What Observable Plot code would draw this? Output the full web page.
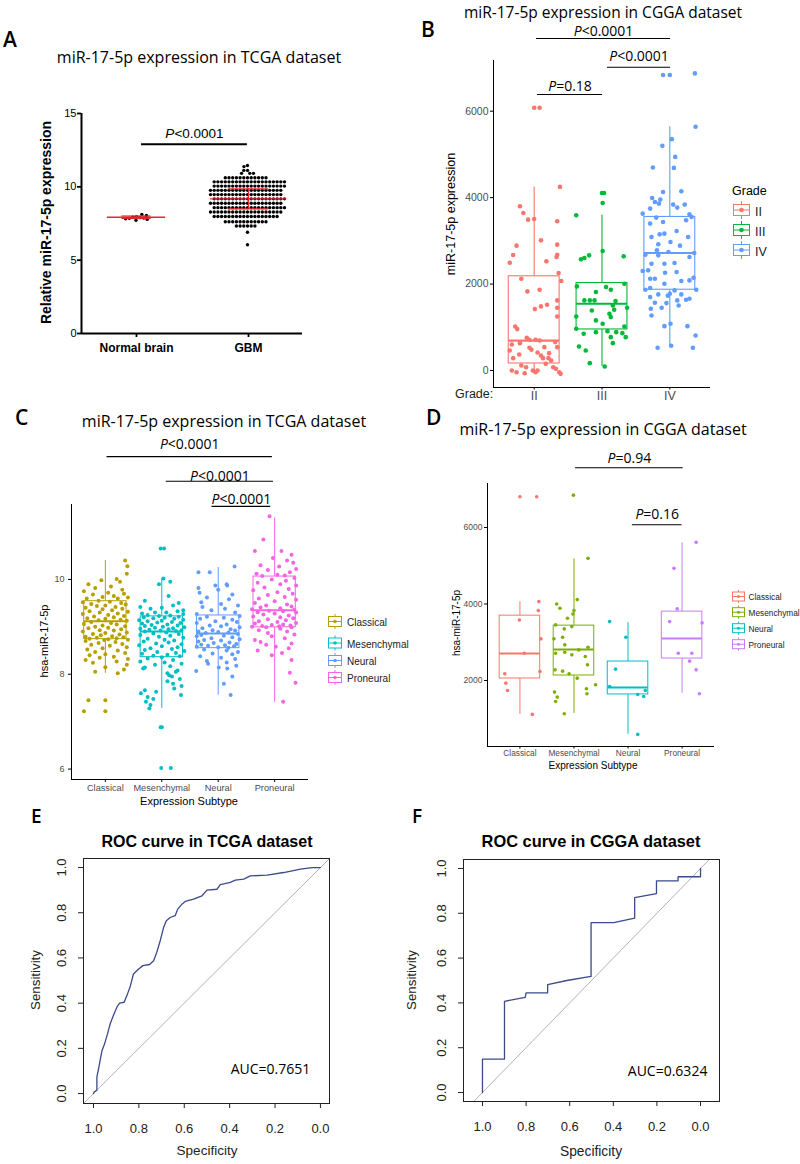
<!DOCTYPE html>
<html><head><meta charset="utf-8">
<script src="https://cdn.jsdelivr.net/npm/d3@7"></script>
<script src="https://cdn.jsdelivr.net/npm/@observablehq/plot@0.6"></script>
<style>
body{margin:0;background:#fff;}
#root{position:relative;width:800px;height:1164px;overflow:hidden;background:#fff;}
</style></head><body><div id="root"></div>
<script>
// ---------------- DATA ----------------
// Panel A (TCGA, GraphPad scatter)
const aCats = ["Normal brain", "GBM"];
const aTicks = [0, 5, 10, 15];
const normalValues = [7.97, 7.93, 7.9, 7.88, 7.85, 7.82, 7.78, 8.05, 8.12, 7.72];
const gbmRows = [[11.45,1],[11.38,1],[11.12,2],[10.92,3],[10.62,12],[10.34,20],[10.05,20],[9.76,20],[9.47,20],[9.18,20],[8.88,20],[8.58,20],[8.28,20],[7.98,18],[7.62,12],[7.33,6],[6.9,1],[6.05,1]];
const aStats = [{g:0, mean:7.93, sd:0.08}, {g:1, mean:9.18, sd:0.68}];
const aSig = [{a:0, b:1, label:"P<0.0001"}];

// Panel B (CGGA by grade)
const bGrades = ["II", "III", "IV"];
const bTicks = [0, 2000, 4000, 6000];
const bII = [[0,6079],[0.08,6079],[0.38,4248],[-0.21,3800],[-0.16,3646],[-0.09,3491],[0,3507],[0.34,3453],[0.1,3012],[-0.26,2889],[0.34,2912],[-0.31,2673],[0.34,2680],[-0.36,2495],[0.18,2526],[0.33,2626],[0.36,2255],[-0.19,2124],[0.40,2070],[-0.1,1831],[0.08,1869],[0.34,1622],[0.01,1421],[0.1,1483],[0.19,1522],[0.34,1452],[0.34,1251],[-0.28,1020],[-0.25,958],[-0.33,602],[-0.21,633],[-0.11,757],[-0.07,711],[0.02,711],[0.08,695],[-0.36,463],[-0.22,371],[-0.04,479],[0.05,417],[0.1,348],[0.22,402],[0.34,541],[-0.31,286],[-0.19,116],[-0.12,77],[-0.02,0],[0.05,0],[0.17,154],[0.25,232],[0.32,39],[0.37,-39],[-0.33,0],[-0.26,-39],[-0.14,-62],[0.02,-39],[0.28,77],[0.39,-77],[0.13,286],[0.21,286],[-0.07,525],[0.15,541],[0.31,657]];
const bIII = [[0,4109],[0.03,4109],[0.01,3877],[-0.38,3592],[0.01,2765],[-0.31,2572],[-0.26,2603],[-0.19,2665],[0.32,2642],[-0.37,1946],[-0.09,1815],[0.06,1931],[0.13,1869],[0.33,2008],[-0.26,1622],[-0.18,1622],[-0.11,1622],[0.16,1506],[0.2,1607],[0.18,1406],[-0.15,1390],[0.11,1313],[0.37,1452],[-0.38,1251],[-0.09,1159],[0.13,1236],[0.01,1081],[0.33,1020],[-0.38,966],[-0.27,850],[-0.09,888],[0.08,911],[0.13,772],[0.21,888],[0.3,865],[0.35,772],[0.16,633],[-0.34,556],[-0.24,463],[-0.18,170],[0.04,93]];
const bIV = [[-0.1,6836],[0,6836],[0.37,6874],[0.38,5639],[0.03,5353],[-0.11,5198],[0.08,4943],[-0.25,4696],[0.06,4688],[-0.1,4132],[0.17,4148],[-0.26,3993],[-0.22,3900],[-0.16,3862],[-0.29,3746],[0.05,3839],[0.11,3769],[0.22,3839],[-0.4,3630],[0.29,3615],[0.32,3553],[0.24,3476],[-0.1,3437],[-0.29,3399],[0.1,3229],[-0.15,3151],[-0.08,3167],[-0.27,3090],[0.27,3090],[0.01,2974],[-0.17,2920],[0.15,2889],[-0.19,2781],[-0.17,2665],[-0.02,2742],[0.36,2719],[-0.36,2680],[-0.27,2472],[-0.32,2317],[-0.08,2472],[0.07,2487],[0.29,2626],[-0.4,2302],[-0.07,2263],[0.1,2279],[0.35,2147],[-0.29,2124],[-0.22,2124],[0.17,2070],[0.29,2085],[-0.08,2008],[-0.36,1869],[-0.29,1908],[0.07,1854],[0.39,1869],[-0.17,1761],[-0.03,1730],[-0.29,1699],[0.17,1761],[0.24,1637],[0.11,1622],[-0.22,1568],[-0.05,1560],[0.29,1661],[-0.28,1429],[-0.12,1452],[0.13,1506],[-0.27,1274],[-0.08,1027],[0.01,1081],[0.26,1027],[0.38,811],[-0.18,525],[0.02,572],[0.34,525],[-0.2,3538],[-0.14,3955],[0,1777]];
const bBox = [
  {g:1, lo:-77, q1:162, med:690, q3:2180, hi:4248},
  {g:2, lo:93, q1:950, med:1545, q3:2024, hi:3592},
  {g:3, lo:572, q1:1869, med:2719, q3:3553, hi:5639}];
const bSig = [{a:1, b:3, label:"P<0.0001"}, {a:2, b:3, label:"P<0.0001"}, {a:1, b:2, label:"P=0.18"}];

// Panel C (TCGA by subtype)
const subtypes = ["Classical", "Mesenchymal", "Neural", "Proneural"];
const cTicks = [6, 8, 10];
const cClassical = [[0.35,10.4],[0.39,10.28],[0.38,10.12],[0.2,10.01],[-0.07,9.98],[0.26,9.95],[-0.3,9.9],[0.1,9.85],[-0.18,9.82],[0.3,9.78],[-0.38,9.75],[0.05,9.72],[0.33,9.7],[-0.22,9.68],[0.15,9.65],[-0.05,9.63],[0.4,9.62],[-0.33,9.6],[0.22,9.6],[-0.12,9.55],[0.08,9.53],[-0.4,9.52],[0.28,9.5],[-0.25,9.48],[0.36,9.47],[0,9.45],[-0.15,9.44],[0.18,9.42],[-0.35,9.4],[0.3,9.38],[-0.05,9.37],[0.12,9.35],[-0.28,9.33],[0.4,9.32],[-0.1,9.3],[0.22,9.28],[-0.4,9.27],[0.05,9.25],[0.33,9.23],[-0.2,9.22],[0.15,9.2],[-0.32,9.18],[0,9.17],[0.27,9.15],[-0.12,9.14],[0.38,9.13],[-0.25,9.1],[0.1,9.08],[-0.38,9.06],[0.2,9.05],[-0.05,9.03],[0.35,9.01],[-0.18,9],[0.05,8.98],[-0.3,8.97],[0.28,8.95],[-0.1,8.93],[0.15,8.92],[-0.4,8.9],[0.38,8.88],[0,8.87],[-0.22,8.85],[0.25,8.84],[-0.08,8.82],[0.12,8.8],[-0.35,8.79],[0.32,8.78],[-0.15,8.77],[0.2,8.76],[-0.28,8.75],[0.05,8.74],[0.4,8.73],[-0.02,8.72],[-0.35,8.7],[0.18,8.68],[-0.12,8.66],[0.3,8.64],[-0.25,8.62],[0.08,8.6],[0.38,8.57],[-0.05,8.55],[-0.32,8.52],[0.22,8.5],[-0.18,8.47],[0.35,8.45],[0,8.42],[-0.28,8.4],[0.15,8.37],[-0.1,8.35],[0.4,8.32],[-0.35,8.3],[0.2,8.27],[-0.22,8.24],[0.38,8.2],[0,8.15],[0.33,8.1],[-0.18,8.05],[0.22,8.02],[-0.3,7.45],[0,7.45],[-0.38,7.22],[0,7.22]];
const cMesenchymal = [[-0.02,10.65],[0.04,10.65],[0.03,10.02],[0.15,9.95],[-0.05,9.9],[0.12,9.65],[-0.3,9.55],[0.3,9.5],[0.2,9.45],[-0.38,9.42],[0,9.4],[-0.2,9.38],[0.38,9.35],[0.28,9.33],[-0.12,9.3],[0.08,9.3],[-0.35,9.28],[0.38,9.27],[-0.25,9.25],[0.15,9.24],[-0.05,9.23],[0.3,9.21],[-0.32,9.2],[0.05,9.19],[-0.15,9.18],[0.22,9.17],[0.38,9.15],[-0.4,9.14],[0,9.13],[-0.25,9.12],[0.18,9.1],[-0.08,9.09],[0.33,9.08],[-0.35,9.07],[0.1,9.05],[-0.18,9.04],[0.28,9.03],[-0.3,9.02],[0.02,9],[0.4,8.99],[-0.12,8.98],[0.2,8.97],[-0.38,8.96],[0.12,8.95],[-0.22,8.94],[0.35,8.93],[-0.02,8.92],[0.25,8.91],[-0.3,8.9],[0.08,8.88],[-0.15,8.86],[0.3,8.85],[-0.38,8.83],[0.15,8.81],[-0.05,8.79],[0.38,8.77],[-0.25,8.75],[0.05,8.73],[0.22,8.71],[-0.32,8.69],[0.12,8.67],[-0.1,8.65],[0.35,8.63],[-0.4,8.61],[0,8.59],[0.28,8.57],[-0.2,8.55],[0.18,8.53],[-0.3,8.51],[0.4,8.49],[-0.08,8.47],[0.25,8.45],[-0.35,8.43],[0.1,8.41],[-0.15,8.39],[0.32,8.38],[0,8.36],[-0.25,8.33],[0.2,8.3],[-0.38,8.27],[0.05,8.25],[0.35,8.22],[-0.12,8.2],[0.15,8.17],[-0.3,8.14],[-0.33,8.12],[0.28,8.08],[0.25,8.05],[0.1,8.02],[0.13,7.98],[0.18,7.95],[0.32,7.9],[0.1,7.85],[0.2,7.8],[0.35,7.75],[0.22,7.7],[-0.3,7.66],[-0.1,7.63],[-0.37,7.6],[0.34,7.56],[-0.25,7.52],[-0.15,7.48],[-0.28,7.42],[-0.2,7.35],[-0.22,7.28],[0,6.88],[-0.02,6.88],[-0.01,6.02],[0.16,6.02]];
const cNeural = [[0.29,10.27],[-0.35,10.15],[-0.15,10.15],[0.15,9.9],[-0.05,9.87],[0.16,9.87],[-0.35,9.82],[0,9.78],[-0.33,9.72],[0.25,9.68],[-0.2,9.62],[0.19,9.58],[-0.3,9.52],[0.05,9.48],[0.35,9.45],[-0.28,9.42],[0.12,9.38],[-0.12,9.35],[0.3,9.3],[-0.38,9.27],[0.38,9.23],[-0.2,9.21],[0.1,9.19],[-0.32,9.17],[0.25,9.15],[-0.05,9.12],[0.33,9.1],[-0.38,9.08],[0.15,9.05],[-0.15,9.03],[0.05,9.01],[0.38,8.99],[-0.28,8.97],[0.22,8.95],[-0.1,8.93],[0.3,8.92],[-0.35,8.9],[0,8.89],[0.18,8.88],[-0.22,8.87],[0.35,8.85],[-0.3,8.83],[0.1,8.81],[-0.38,8.8],[0.25,8.78],[-0.12,8.76],[0.38,8.74],[-0.25,8.72],[0.05,8.71],[-0.35,8.69],[0.2,8.67],[-0.08,8.66],[0.32,8.64],[-0.3,8.62],[0.12,8.61],[-0.18,8.6],[0.28,8.59],[-0.38,8.58],[0,8.57],[0.18,8.56],[-0.25,8.52],[0.15,8.5],[0.35,8.47],[-0.1,8.44],[0.25,8.42],[-0.32,8.38],[0.05,8.35],[0.3,8.32],[-0.2,8.28],[0.15,8.25],[-0.18,8.22],[0.32,8.18],[0.01,8.14],[0.16,8.12],[-0.39,8.07],[0.25,7.95],[0.1,7.8],[0.22,7.56]];
const cProneural = [[-0.09,11.33],[-0.2,10.84],[-0.35,10.6],[0.12,10.6],[0.3,10.52],[-0.03,10.45],[0.22,10.4],[0.33,10.35],[-0.25,10.3],[0.08,10.27],[0.38,10.22],[-0.12,10.2],[0.27,10.15],[-0.32,10.12],[0.05,10.1],[0.18,10.08],[-0.22,10.07],[0.35,10.03],[-0.05,10],[0.2,9.97],[-0.3,9.93],[0.1,9.9],[0.38,9.87],[-0.18,9.83],[0.25,9.8],[-0.38,9.77],[0.05,9.73],[0.32,9.7],[-0.12,9.67],[0.18,9.63],[-0.28,9.6],[0.38,9.57],[0,9.54],[-0.35,9.5],[0.22,9.47],[-0.15,9.45],[0.3,9.43],[-0.25,9.41],[0.1,9.39],[-0.4,9.37],[0.35,9.36],[-0.1,9.34],[0.15,9.33],[-0.3,9.31],[0.38,9.3],[0,9.28],[-0.2,9.26],[0.25,9.24],[-0.38,9.22],[0.1,9.2],[0.33,9.18],[-0.12,9.16],[0.2,9.14],[-0.28,9.12],[0.05,9.1],[0.38,9.08],[-0.35,9.07],[0.15,9.05],[-0.05,9.04],[0.28,9.03],[-0.22,9.02],[0.08,9.01],[-0.4,9],[0.3,8.99],[-0.15,8.99],[0.1,8.96],[-0.28,8.93],[0.22,8.9],[-0.12,8.87],[0.35,8.84],[-0.05,8.8],[0.18,8.76],[-0.35,8.72],[-0.25,8.68],[0.3,8.65],[-0.15,8.62],[0.02,8.58],[0.25,8.55],[-0.3,8.5],[0.13,8.45],[-0.05,8.4],[0.3,8.3],[0.27,8.03],[0.37,7.82],[0.15,7.42]];
const cBox = [
  {g:1, lo:8.02, q1:8.74, med:9.12, q3:9.54, hi:10.4},
  {g:2, lo:7.28, q1:8.36, med:8.9, q3:9.22, hi:10.02},
  {g:3, lo:7.56, q1:8.55, med:8.86, q3:9.24, hi:10.25},
  {g:4, lo:7.41, q1:8.99, med:9.35, q3:10.06, hi:11.3}];
const cSig = [{a:1, b:4, label:"P<0.0001"}, {a:2, b:4, label:"P<0.0001"}, {a:3, b:4, label:"P<0.0001"}];

// Panel D (CGGA by subtype)
const dTicks = [2000, 4000, 6000];
const dClassical = [[0,6802],[0.31,6802],[0.35,4062],[0.34,3827],[-0.01,3583],[0.39,3088],[0.08,2713],[0.37,2235],[-0.28,2174],[-0.26,1930],[-0.23,1739],[0.23,1113]];
const dMesenchymal = [[-0.01,6846],[0.26,5193],[0.06,4114],[-0.32,4001],[-0.26,3888],[0,3827],[-0.02,3740],[-0.12,3627],[-0.04,3409],[-0.18,3349],[-0.34,3453],[-0.21,3131],[-0.37,3088],[-0.17,2931],[-0.34,2713],[-0.17,2739],[-0.04,2670],[0.09,2800],[0.21,2626],[0.26,2870],[0.25,2409],[-0.35,2278],[-0.21,2244],[-0.09,2174],[0.06,2061],[0.4,1887],[0.23,1783],[0.24,1652],[-0.36,1696],[-0.31,1565],[-0.34,1452],[-0.18,1130]];
const dNeural = [[-0.34,3540],[-0.04,3131],[-0.23,2296],[-0.34,1843],[0.18,1635],[0.29,1583],[0.32,1739],[0.18,591]];
const dProneural = [[0.26,5611],[-0.15,4932],[-0.09,3871],[-0.23,3540],[0.37,3505],[-0.07,2713],[0.18,2713],[0.14,2505],[0.26,2278],[0.32,1652]];
const dBox = [
  {g:1, lo:1113, q1:2052, med:2704, q3:3695, hi:4060},
  {g:2, lo:1139, q1:2130, med:2808, q3:3434, hi:5180},
  {g:3, lo:592, q1:1635, med:1817, q3:2495, hi:3512},
  {g:4, lo:1661, q1:2574, med:3095, q3:3800, hi:5600}];
const dSig = [{a:2, b:4, label:"P=0.94"}, {a:3, b:4, label:"P=0.16"}];

// Panels E, F (ROC curves: [specificity, sensitivity])
const rocTicks = [0, 0.2, 0.4, 0.6, 0.8, 1];
const rocE = [[1,0],[0.997,0.007],[0.985,0.015],[0.985,0.074],[0.976,0.118],[0.963,0.188],[0.951,0.22],[0.938,0.265],[0.926,0.31],[0.912,0.346],[0.897,0.382],[0.885,0.4],[0.865,0.404],[0.85,0.441],[0.838,0.474],[0.824,0.529],[0.801,0.551],[0.782,0.566],[0.753,0.571],[0.735,0.588],[0.721,0.625],[0.706,0.676],[0.691,0.735],[0.679,0.765],[0.662,0.779],[0.64,0.787],[0.629,0.816],[0.61,0.838],[0.596,0.85],[0.559,0.86],[0.522,0.875],[0.5,0.9],[0.456,0.904],[0.441,0.924],[0.397,0.934],[0.375,0.944],[0.338,0.949],[0.309,0.963],[0.235,0.966],[0.162,0.978],[0.088,0.993],[0.037,1],[0,1]];
const rocF = [[1,0],[1,0.149],[0.899,0.149],[0.899,0.407],[0.804,0.425],[0.8,0.445],[0.701,0.445],[0.701,0.482],[0.613,0.5],[0.502,0.518],[0.502,0.758],[0.398,0.758],[0.302,0.778],[0.302,0.87],[0.202,0.888],[0.202,0.945],[0.103,0.945],[0.103,0.963],[0,0.963],[0,1]];
const aucE = "AUC=0.7651";
const aucF = "AUC=0.6324";

// ---------------- RENDER ----------------
const root = document.getElementById("root");
const SANS = "'Liberation Sans', Arial, sans-serif";
const MYR = "'Open Sans', sans-serif";
const baseStyle = {background: "transparent", fontFamily: SANS, overflow: "visible", color: "black"};
const ggHue4 = ["#F8766D", "#7CAE00", "#00BFC4", "#C77CFF"];
const cHue = ["#B79F00", "#00BFC4", "#619CFF", "#F564E3"];
const bHue = ["#F8766D", "#00BA38", "#619CFF"];

function place(el, left, top) {
  el.style.position = "absolute";
  el.style.left = left + "px";
  el.style.top = top + "px";
  el.style.maxWidth = "none";
  el.style.overflow = "visible";
  root.appendChild(el);
  italicP(el);
  return el;
}
function italicP(svg) {
  const ns = "http://www.w3.org/2000/svg";
  svg.querySelectorAll("text, tspan").forEach(t => {
    if (t.childNodes.length === 1 && t.firstChild.nodeType === 3 && /^P[<=]/.test(t.textContent)) {
      const s = t.textContent;
      t.textContent = "";
      const a = document.createElementNS(ns, "tspan");
      a.setAttribute("font-style", "italic");
      a.textContent = "P";
      t.appendChild(a);
      t.appendChild(document.createTextNode(s.slice(1)));
    }
  });
}
function groupPoints(groups) {
  return groups.flatMap((arr, i) => arr.map(([o, v]) => ({g: i + 1, x: i + 1 + o, v})));
}
function boxMarks(box, hw, sw) {
  return [
    Plot.ruleX(box, {x: "g", y1: "q3", y2: "hi", stroke: "g", strokeWidth: sw}),
    Plot.ruleX(box, {x: "g", y1: "lo", y2: "q1", stroke: "g", strokeWidth: sw}),
    Plot.rect(box, {x1: d => d.g - hw, x2: d => d.g + hw, y1: "q1", y2: "q3", stroke: "g", fill: "white", strokeWidth: sw}),
    Plot.ruleY(box, {y: "med", x1: d => d.g - hw, x2: d => d.g + hw, stroke: "g", strokeWidth: sw * 2})
  ];
}
// significance brackets: layout [x1, x2, lineY, textY] kept apart from the comparisons
function sigMarks(sig, layout, font, size, sw) {
  const rows = sig.map((s, i) => ({...s, x1: layout[i][0], x2: layout[i][1], ly: layout[i][2], ty: layout[i][3]}));
  return [
    Plot.ruleY(rows, {y: "ly", x1: "x1", x2: "x2", stroke: "black", strokeWidth: sw}),
    Plot.text(rows, {x: d => (d.x1 + d.x2) / 2, y: "ty", text: "label", fontFamily: font, fontSize: size, fill: "black"})
  ];
}

// ---- Panel A: axes / error bars / bracket layer
const aX = [-0.491, 1.482], aY = [0, 15];
const meanHalf = [0.26, 0.34], sdHalf = [0.13, 0.18];
const aRed = "#e3262b";
const plotA1 = Plot.plot({
  width: 400, height: 270, marginLeft: 81, marginRight: 98, marginTop: 13, marginBottom: 37,
  style: baseStyle,
  x: {domain: aX, axis: null}, y: {domain: aY, axis: null},
  marks: [
    Plot.ruleY(aStats, {y: "mean", x1: d => d.g - meanHalf[d.g], x2: d => d.g + meanHalf[d.g], stroke: aRed, strokeWidth: 1.4}),
    Plot.ruleY(aStats, {y: d => d.mean + d.sd, x1: d => d.g - sdHalf[d.g], x2: d => d.g + sdHalf[d.g], stroke: aRed, strokeWidth: 1.2}),
    Plot.ruleY(aStats, {y: d => d.mean - d.sd, x1: d => d.g - sdHalf[d.g], x2: d => d.g + sdHalf[d.g], stroke: aRed, strokeWidth: 1.2}),
    Plot.ruleX(aStats, {x: "g", y1: d => d.mean - d.sd, y2: d => d.mean + d.sd, stroke: aRed, strokeWidth: 1.2}),
    Plot.ruleX([aX[0]], {stroke: "black", strokeWidth: 2}),
    Plot.ruleY([aY[0]], {stroke: "black", strokeWidth: 2}),
    Plot.axisY({ticks: aTicks, tickSize: 4, tickPadding: 1, fontSize: 11, strokeWidth: 1.8, label: null}),
    Plot.axisX({ticks: [0, 1], tickFormat: i => aCats[i], tickSize: 4, tickPadding: 6, fontSize: 12, fontWeight: "bold", strokeWidth: 1.8, label: null}),
    ...sigMarks(aSig, [[0.045, 0.99, 12.9, 13.6]], SANS, 13.5, 2)
  ]
});
// ---- Panel A: beeswarm dots (faceted dodge)
const aPoints = [
  ...normalValues.map(v => ({g: aCats[0], v})),
  ...gbmRows.flatMap(([v, n]) => d3.range(n).map(() => ({g: aCats[1], v})))
];
const plotA2 = Plot.plot({
  width: 400, height: 270, marginLeft: 81, marginRight: 98, marginTop: 13, marginBottom: 37,
  style: baseStyle,
  fx: {domain: aCats, paddingInner: 0.1, paddingOuter: 0.045, axis: null, label: null},
  y: {domain: aY, axis: null},
  marks: [
    Plot.dot(aPoints, Plot.dodgeX({anchor: "middle", padding: 0.3}, {fx: "g", y: "v", r: 1.7, fill: "black"}))
  ]
});
place(plotA2, 0, 100);
place(plotA1, 0, 100);

// ---- Panel B
const bX = [0.4, 3.6], bY = [-393, 7173];
const plotB = Plot.plot({
  width: 400, height: 405, marginLeft: 93, marginRight: 90, marginTop: 60, marginBottom: 18,
  style: baseStyle,
  x: {domain: bX, axis: null}, y: {domain: bY, axis: null},
  color: {type: "ordinal", domain: [1, 2, 3], range: bHue},
  marks: [
    Plot.ruleX([bX[0]], {stroke: "black", strokeWidth: 1}),
    Plot.ruleY([bY[0]], {stroke: "black", strokeWidth: 1}),
    Plot.axisY({ticks: bTicks, tickFormat: "d", tickSize: 3, tickPadding: 2, fontSize: 10.5, fill: "#4d4d4d", label: null}),
    Plot.axisX({ticks: [1, 2, 3], tickFormat: d => bGrades[d - 1], tickSize: 2.5, tickPadding: 1, fontSize: 12.5, fill: "#4d4d4d", label: null}),
    ...boxMarks(bBox, 0.375, 1.1),
    Plot.dot(groupPoints([bII, bIII, bIV]), {x: "x", y: "v", fill: "g", r: 2.3}),
    ...sigMarks(bSig, [[1.034, 3.011, 7683, 7850], [2.081, 3.011, 7018, 7254], [1.049, 2.008, 6387, 6572]], MYR, 14, 1.1)
  ]
});
place(plotB, 400, 0);

// ---- Panel C
const cX = [0.4, 4.6], cY = [5.78, 11.58];
const plotC = Plot.plot({
  width: 400, height: 380, marginLeft: 71, marginRight: 92, marginTop: 74, marginBottom: 31,
  style: baseStyle,
  x: {domain: cX, axis: null}, y: {domain: cY, axis: null},
  color: {type: "ordinal", domain: [1, 2, 3, 4], range: cHue},
  marks: [
    Plot.ruleX([cX[0]], {stroke: "black", strokeWidth: 1}),
    Plot.ruleY([cY[0]], {stroke: "black", strokeWidth: 1}),
    Plot.axisY({ticks: cTicks, tickFormat: "d", tickSize: 3, tickPadding: 4, fontSize: 9, fill: "#4d4d4d", label: null}),
    Plot.axisX({ticks: [1, 2, 3, 4], tickFormat: d => subtypes[d - 1], tickSize: 3, tickPadding: 1.5, fontSize: 9.2, fill: "#4d4d4d", label: null}),
    ...boxMarks(cBox, 0.375, 1),
    Plot.dot(groupPoints([cClassical, cMesenchymal, cNeural, cProneural]), {x: "x", y: "v", fill: "g", r: 2}),
    ...sigMarks(cSig, [[1.03, 3.96, 12.59, 12.84], [2.08, 3.98, 12.07, 12.18], [2.89, 3.93, 11.54, 11.69]], MYR, 14, 1.1)
  ]
});
place(plotC, 0, 430);

// ---- Panel D
const dX = [0.4, 4.6], dY = [274, 7150];
const plotD = Plot.plot({
  width: 400, height: 335, marginLeft: 87, marginRight: 86, marginTop: 43, marginBottom: 29,
  style: baseStyle,
  x: {domain: dX, axis: null}, y: {domain: dY, axis: null},
  color: {type: "ordinal", domain: [1, 2, 3, 4], range: ggHue4},
  marks: [
    Plot.ruleX([dX[0]], {stroke: "black", strokeWidth: 1}),
    Plot.ruleY([dY[0]], {stroke: "black", strokeWidth: 1}),
    Plot.axisY({ticks: dTicks, tickFormat: "d", tickSize: 3, tickPadding: 2, fontSize: 8.5, fill: "#4d4d4d", label: null}),
    Plot.axisX({ticks: [1, 2, 3, 4], tickFormat: d => subtypes[d - 1], tickSize: 2.5, tickPadding: 1.5, fontSize: 8.3, fill: "#4d4d4d", label: null}),
    ...boxMarks(dBox, 0.375, 1),
    Plot.dot(groupPoints([dClassical, dMesenchymal, dNeural, dProneural]), {x: "x", y: "v", fill: "g", r: 1.8}),
    ...sigMarks(dSig, [[2.03, 4.02, 7561, 7810], [3.08, 4.0, 6073, 6352]], MYR, 14, 1.1)
  ]
});
place(plotD, 400, 440);

// ---- Panels E, F
function rocPlot(roc, auc, xDom, yDom, m, aucPos) {
  return Plot.plot({
    width: 400, height: 314, marginLeft: m[0], marginRight: m[1], marginTop: m[2], marginBottom: m[3],
    style: baseStyle,
    x: {domain: xDom, axis: null}, y: {domain: yDom, axis: null},
    marks: [
      Plot.link([{x1: 1.2, y1: -0.2, x2: -0.2, y2: 1.2}], {x1: "x1", y1: "y1", x2: "x2", y2: "y2", stroke: "#b3b3b3", strokeWidth: 1, clip: true}),
      Plot.line(roc, {x: d => d[0], y: d => d[1], stroke: "#3b4b8c", strokeWidth: 1.3}),
      Plot.frame({stroke: "#222", strokeWidth: 1}),
      Plot.axisX({ticks: rocTicks, tickFormat: ".1f", tickSize: 5, tickPadding: 15, fontSize: 13, fill: "#222", stroke: "#222", label: null}),
      Plot.axisY({ticks: rocTicks, tickFormat: ".1f", tickSize: 5, tickPadding: 13, fontSize: 13, fill: "#222", stroke: "#222", tickRotate: -90, textAnchor: "middle", lineAnchor: "bottom", label: null}),
      Plot.text([auc], {x: aucPos[0], y: aucPos[1], text: d => d, fontFamily: MYR, fontSize: 14, fill: "black"})
    ]
  });
}
place(rocPlot(rocE, aucE, [1.044, -0.04], [-0.044, 1.04], [83, 71, 8, 61], [0.22, 0.106]), 0, 850);
place(rocPlot(rocF, aucF, [1.087, -0.087], [-0.04, 1.04], [63, 81, 9, 63], [0.151, 0.094]), 400, 850);

// ---------------- OVERLAY TEXT (titles, panel letters, axis titles, legends) ----------------
function t(x, y, s, o = {}) {
  const rot = o.rotate ? ` transform="translate(${x},${y}) rotate(${o.rotate})"` : "";
  const pos = o.rotate ? `x="0" y="0"` : `x="${x}" y="${y}"`;
  return `<text ${pos}${rot} font-family="${o.font || SANS}" font-size="${o.size || 12}" fill="${o.fill || "black"}" text-anchor="${o.anchor || "start"}" font-weight="${o.weight || "normal"}">${s}</text>`;
}
function key(x, yc, w, h, whisk, r, color) {
  const cx = x + w / 2;
  return `<g stroke="${color}" stroke-width="1" fill="none">
    <line x1="${cx}" x2="${cx}" y1="${yc - h / 2 - whisk}" y2="${yc - h / 2}"/>
    <line x1="${cx}" x2="${cx}" y1="${yc + h / 2}" y2="${yc + h / 2 + whisk}"/>
    <rect x="${x}" y="${yc - h / 2}" width="${w}" height="${h}" fill="white"/>
    <line x1="${x}" x2="${x + w}" y1="${yc}" y2="${yc}"/>
    <circle cx="${cx}" cy="${yc}" r="${r}" fill="${color}" stroke="none"/></g>`;
}
let ov = "";
// panel letters
ov += t(3, 47, "A", {font: MYR, size: 21, weight: 600});
ov += t(421, 37, "B", {font: MYR, size: 21, weight: 600});
ov += t(15, 425, "C", {font: MYR, size: 21, weight: 600});
ov += t(426, 425, "D", {font: MYR, size: 21, weight: 600});
ov += t(31, 823, "E", {font: MYR, size: 19, weight: 600});
ov += t(412, 823, "F", {font: MYR, size: 19, weight: 600});
// titles
ov += t(199, 63, "miR-17-5p expression in TCGA dataset", {font: MYR, size: 16, anchor: "middle"});
ov += t(603, 17.5, "miR-17-5p expression in CGGA dataset", {font: MYR, size: 15.5, anchor: "middle"});
ov += t(224, 427, "miR-17-5p expression in TCGA dataset", {font: MYR, size: 16, anchor: "middle"});
ov += t(603, 435, "miR-17-5p expression in CGGA dataset", {font: MYR, size: 16, anchor: "middle"});
ov += t(207, 847, "ROC curve in TCGA dataset", {size: 16, anchor: "middle", weight: "bold"});
ov += t(591, 847, "ROC curve in CGGA dataset", {size: 16.4, anchor: "middle", weight: "bold"});
// axis titles
ov += t(51, 222.5, "Relative miR-17-5p expression", {size: 14, weight: "bold", anchor: "middle", rotate: -90});
ov += t(454.5, 214, "miR-17-5p expression", {size: 12.5, anchor: "middle", rotate: -90});
ov += t(455, 398, "Grade:", {size: 12.5, fill: "#222"});
ov += t(48, 641, "hsa-miR-17-5p", {size: 11, anchor: "middle", rotate: -90});
ov += t(189, 805, "Expression Subtype", {size: 11, anchor: "middle"});
ov += t(459.5, 623, "hsa-miR-17-5p", {size: 10, anchor: "middle", rotate: -90});
ov += t(593, 769, "Expression Subtype", {size: 10, anchor: "middle"});
ov += t(39.5, 980, "Sensitivity", {size: 13.3, anchor: "middle", rotate: -90, fill: "#222"});
ov += t(416.3, 980, "Sensitivity", {size: 13.3, anchor: "middle", rotate: -90, fill: "#222"});
ov += t(207, 1155, "Specificity", {size: 13.5, anchor: "middle", fill: "#222"});
ov += t(591, 1156, "Specificity", {size: 13.8, anchor: "middle", fill: "#222"});
// legend B
ov += t(732, 195, "Grade", {size: 12.5});
bGrades.forEach((g, i) => {
  ov += key(733.5, 210 + i * 20, 16, 11, 3.5, 2.3, bHue[i]);
  ov += t(755, 215.5 + i * 20, g, {size: 12.5, fill: "#222"});
});
// legend C
const cLegY = [626, 647.5, 665, 682];
subtypes.forEach((s, i) => {
  ov += key(328.5, cLegY[i] - 4.5, 13, 10, 2.5, 1.8, cHue[i]);
  ov += t(347, cLegY[i], s, {size: 10, fill: "#222"});
});
// legend D
const dLegY = [600, 615.7, 631.7, 647.7];
subtypes.forEach((s, i) => {
  ov += key(732.5, dLegY[i] - 3.5, 12, 9, 2, 1.5, ggHue4[i]);
  ov += t(748.5, dLegY[i], s, {size: 8.3, fill: "#222"});
});
const ovWrap = document.createElementNS("http://www.w3.org/2000/svg", "svg");
ovWrap.setAttribute("width", 800);
ovWrap.setAttribute("height", 1164);
ovWrap.style.cssText = "position:absolute;left:0;top:0;pointer-events:none;overflow:visible";
ovWrap.innerHTML = ov;
root.appendChild(ovWrap);
</script></body></html>
